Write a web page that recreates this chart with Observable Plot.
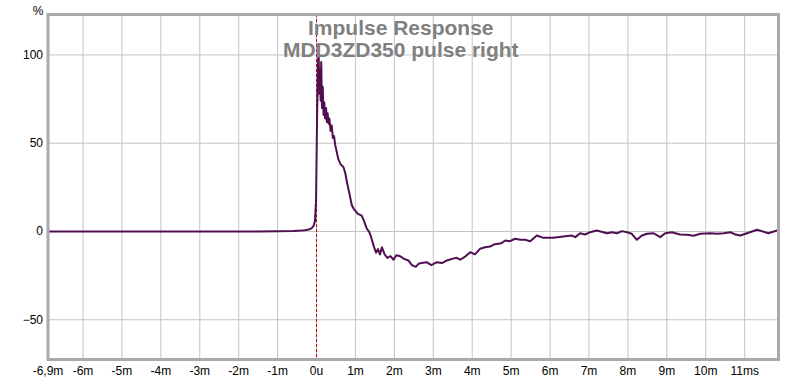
<!DOCTYPE html>
<html>
<head>
<meta charset="utf-8">
<script src="https://cdn.jsdelivr.net/npm/d3@7"></script>
<script src="https://cdn.jsdelivr.net/npm/@observablehq/plot@0.6"></script>
<style>
  html, body { margin: 0; padding: 0; background: #ffffff; }
  #chart svg { display: block; }
</style>
</head>
<body>
<div id="chart"></div>
<script>
// Impulse response: time in ms, amplitude in %
const times = [
  -6.9, -5, -3, -1.5, -1, -0.6, -0.4, -0.3, -0.2, -0.13, -0.08, -0.04, -0.013,
  0.013, 0.04, 0.055, 0.07, 0.09, 0.105, 0.12, 0.14, 0.16, 0.18, 0.2, 0.22, 0.245,
  0.265, 0.285, 0.31, 0.33, 0.36, 0.39, 0.42, 0.45, 0.48, 0.52, 0.56, 0.62, 0.69,
  0.74, 0.78, 0.84, 0.905, 0.95, 0.99, 1.06, 1.16, 1.22, 1.29, 1.36, 1.4, 1.48,
  1.53, 1.58, 1.63, 1.68, 1.75, 1.82, 1.9, 1.98, 2.05, 2.15, 2.25, 2.36, 2.45,
  2.55, 2.62, 2.7, 2.83, 2.95, 3.09, 3.22, 3.35, 3.48, 3.6, 3.69, 3.82, 3.95,
  4.07, 4.2, 4.33, 4.46, 4.55, 4.75, 4.85, 4.97, 5.1, 5.24, 5.36, 5.49, 5.66,
  5.83, 6.09, 6.34, 6.56, 6.65, 6.77, 6.9, 7.03, 7.2, 7.46, 7.59, 7.72, 7.85,
  7.98, 8.1, 8.23, 8.36, 8.49, 8.66, 8.83, 8.96, 9.13, 9.34, 9.52, 9.69, 9.86,
  10.12, 10.29, 10.46, 10.63, 10.76, 10.89, 11.06, 11.32, 11.44, 11.61, 11.83
];
const values = [
  0, 0, 0, 0.05, 0.1, 0.3, 0.5, 0.7, 1.1, 1.8, 3, 6, 17.5,
  63, 97, 100, 78, 92, 74, 96, 70, 82, 66, 73, 64, 70,
  62, 67, 61, 64, 57, 60, 53, 54, 49, 45, 41, 38, 36.5,
  33, 28, 22, 15, 13, 12, 10, 9, 6, 1.7, -0.5, -3, -9,
  -12, -10, -13, -9, -13, -15, -14, -16, -13.5, -14, -15.5, -16.4, -19,
  -20, -18.3, -17.9, -17.4, -19, -17.4, -17.9, -16.4, -15.5, -14.9, -16, -14.2, -11.7,
  -13, -9.8, -8.9, -8.5, -7.4, -6.6, -5.1, -5.5, -4.1, -4.7, -4.7, -5.5, -2.3,
  -3.6, -3.6, -2.8, -2.3, -3.2, -1, -1.7, -0.4, 0.6, -1, -0.4, -1, 0.2,
  -0.4, -1.3, -4.7, -2.3, -1.3, -1, -3.2, -1, -0.4, -1.7, -1.9, -2.4, -1.3,
  -1, -1.3, -1, -0.4, -1.7, -2.3, -1, 1, 0.2, -1, 0.6
];

const xTicks = [-6.9, -6, -5, -4, -3, -2, -1, 0, 1, 2, 3, 4, 5, 6, 7, 8, 9, 10, 11];
const xTickLabels = ["-6,9m", "-6m", "-5m", "-4m", "-3m", "-2m", "-1m", "0u", "1m", "2m", "3m", "4m", "5m", "6m", "7m", "8m", "9m", "10m", "11ms"];
const xGridTicks = [-6, -5, -4, -3, -2, -1, 0, 1, 2, 3, 4, 5, 6, 7, 8, 9, 10, 11];
const yTicks = [-50, 0, 50, 100];
const titleLines = ["Impulse Response", "MDD3ZD350 pulse right"];
const yUnit = "%";

const data = times.map((t, i) => ({t, v: values[i]}));
const xLabelMap = new Map(xTicks.map((d, i) => [d, xTickLabels[i]]));

const chart = Plot.plot({
  width: 800,
  height: 381,
  marginLeft: 47.5,
  marginRight: 22,
  marginTop: 14,
  marginBottom: 22,
  style: {fontFamily: "'Liberation Sans', Arial, sans-serif", fontSize: "12px", color: "#000", background: "#fff"},
  x: {domain: [-6.9, 11.87]},
  y: {domain: [-72.5, 122.9]},
  marks: [
    Plot.gridX(xGridTicks, {stroke: "#c4c4c4", strokeOpacity: 1, strokeWidth: 1}),
    Plot.gridY(yTicks, {stroke: "#c4c4c4", strokeOpacity: 1, strokeWidth: 1}),
    Plot.ruleX([0], {stroke: "#c00000", strokeWidth: 1, strokeDasharray: "3,2"}),
    Plot.line(data, {x: "t", y: "v", stroke: "#4f0f52", strokeWidth: 2}),
    Plot.frame({stroke: "#aaaaaa", strokeWidth: 3}),
    Plot.axisX(xTicks, {tickSize: 0, tickPadding: 7, tickFormat: d => xLabelMap.get(d), fill: "#000", label: null, fontSize: 12}),
    Plot.axisY(yTicks, {tickSize: 0, tickPadding: 5, fill: "#000", label: null, fontSize: 12}),
    Plot.text([yUnit], {frameAnchor: "top-left", dx: -10, dy: -8, fontSize: 12, fill: "#000", textAnchor: "middle"}),
    Plot.text([titleLines.join("\n")], {frameAnchor: "top", dx: -12.5, dy: 4, fontSize: 21, fontWeight: "bold", fill: "#808080", lineHeight: 1.08, lineAnchor: "top"})
  ]
});
document.getElementById("chart").appendChild(chart);
</script>
</body>
</html>
